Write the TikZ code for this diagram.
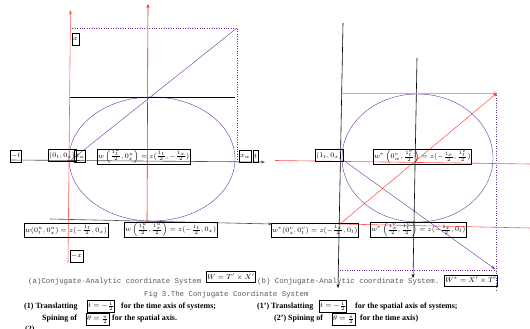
\documentclass[tikz,border=0pt]{standalone}
\usepackage{amsmath}
\usepackage{fontspec}
\setmainfont{Liberation Serif}
\newfontfamily\capfont{Liberation Mono}
\usetikzlibrary{arrows.meta}
\definecolor{wpurple}{HTML}{7030A0}
\definecolor{wred}{HTML}{FF2A2A}
\definecolor{wgray}{HTML}{505050}

\begin{document}
\begin{tikzpicture}[
    x=1pt, y=-1pt,
    axis/.style={-{Stealth[length=4pt, width=3pt]}},
    lbl/.style={draw, thin, anchor=west, inner sep=1pt, minimum height=12pt, font=\fontsize{7.2}{8}\selectfont},
    formula/.style={draw, thin, anchor=west, inner sep=0.8pt, minimum height=14pt, font=\fontsize{7.5}{8}\selectfont},
    caption/.style={anchor=west, inner sep=0pt, text=black!65, font=\capfont\fontsize{7.4}{8}\selectfont},
    note/.style={anchor=west, inner sep=0pt, font=\bfseries\fontsize{8}{9}\selectfont}
]
    \useasboundingbox (0,0) rectangle (530,329);
    % (a) left system - points
    \coordinate (aO) at (70,161);
    \coordinate (aC) at (237,28);
    \coordinate (aTop) at (70.5,10);
    \coordinate (aBot) at (68,263);
    \coordinate (aMidTop) at (148,4);
    \coordinate (aMidBot) at (147,222);
    \coordinate (aAxL) at (10,160);
    \coordinate (aAxR) at (265,162);
    \coordinate (aLowL) at (50,219);
    \coordinate (aLowR) at (272,224);
    % (a) shapes
    \draw[wpurple, thin] (152,159) ellipse [x radius=83, y radius=62];
    \draw[wpurple, thin, dotted] (70,28) -- (aC) -- (237,160);
    \draw[wpurple, thin] (aO) -- (aC);
    \draw[black, thin] (70,97) -- (235,97);
    \draw[axis, wred!75, semithick] (aBot) -- (aTop);
    \draw[axis, wred!85!black, semithick] (aMidBot) -- (aMidTop);
    \draw[axis, wgray, semithick] (aAxL) -- (aAxR);
    \draw[axis, wgray, semithick] (aLowL) -- (aLowR);
    % (b) right system - points
    \coordinate (bO) at (340,224);
    \coordinate (bC) at (497,93);
    \coordinate (bVTop) at (343,23);
    \coordinate (bVBot) at (338,288);
    \coordinate (bWTop) at (417,58);
    \coordinate (bWBot) at (413,278);
    \coordinate (bL) at (343,160);
    \coordinate (bE) at (495,269);
    % (b) shapes
    \draw[wpurple, thin] (417.5,158) ellipse [x radius=75.5, y radius=64];
    \draw[wpurple, thin, dotted] (496,93) -- (496,290);
    \draw[wpurple, thin, dotted] (340,270) -- (496,270);
    \draw[axis, wpurple, thin] (bL) -- (bE);
    \draw[axis, black, semithick] (bVTop) -- (bVBot);
    \draw[axis, black, semithick] (bWTop) -- (bWBot);
    \draw[axis, wred!50, thick] (342,93) -- (bC);
    \draw[axis, wred, thin] (bO) -- (bC);
    \draw[wred!80, semithick] (275,160.5) -- (530,164);
    \draw[wred!80, semithick] (bO) -- (530,228);
    % (a) labels
    \node[lbl] (lx) at (72,39) {$x$};
    \node[lbl] (lmt) at (10,156) {$-t$};
    \node[lbl] (lorgA) at (48,155.5) {$(0_t,0_x)$};
    \node[lbl] (lxu) at (74,156) {$x_u$};
    \node[formula] (fA) at (97,156.5) {$w\left(\frac{1^u_t}{2},0^u_x\right)=z(\frac{1_t}{2},-\frac{1_x}{2})$};
    \node[lbl] (lxw) at (239,156) {$x_w$};
    \node[lbl] (lt) at (253,156) {$t$};
    \node[formula] (fA1) at (24,230) {$w(0^u_t,0^u_x)=z(-\frac{1_t}{2},0_x)$};
    \node[formula] (fA2) at (124,230) {$w\left(\frac{1^u_t}{2},\frac{1^u_x}{2}\right)=z(-\frac{1_t}{2},0_x)$};
    \node[lbl] (lmx) at (70,256) {$-x$};
    % (b) labels
    \node[lbl] (lorgB) at (315,155.5) {$(1_t,0_x)$};
    \node[formula] (fB) at (373,157) {$w^*\left(0^v_w,\frac{1^v_t}{2}\right)=z(-\frac{1_x}{2},\frac{1^v_t}{2})$};
    \node[formula] (fB1) at (271,230) {$w^*(0^v_x,0^v_t)=z(-\frac{1_x}{2},0_t)$};
    \node[formula] (fB2) at (370,230) {$w^*\left(\frac{1^v_x}{2},\frac{1^v_t}{2}\right)=z(-\frac{1_x}{2},0_t)$};
    % captions
    \node[caption] (capA) at (28,282) {(a)Conjugate-Analytic coordinate System};
    \node[formula, minimum height=11pt] (prodA) at (206,277) {$W=T'\times X'$};
    \node[caption] (capB) at (257,282) {(b) Conjugate-Analytic coordinate System.};
    \node[formula, minimum height=11pt] (prodB) at (444,280.5) {$W^*=X'\times T'$};
    \node[caption] (fig) at (144,295) {Fig 3.The Conjugate Coordinate System};
    % notes
    \node[note] (n1) at (24,307) {(1) Translatting};
    \node[formula, minimum height=12pt] (t1) at (87,306) {$t=-\frac{1}{2}$};
    \node[note] (n1r) at (121,307) {for the time axis of systems;};
    \node[note] (m1) at (257,307) {(1') Translatting};
    \node[formula, minimum height=12pt] (t2) at (319,306) {$t=-\frac{1}{2}$};
    \node[note] (m1r) at (355,307) {for the spatial axis of systems;};
    \node[note] (n2) at (42,319) {Spining of};
    \node[formula, minimum height=12pt] (s1) at (86,319.5) {$\theta=\frac{\pi}{2}$};
    \node[note] (n2r) at (112,319) {for the spatial axis.};
    \node[note] (n2n) at (25,330) {(2)};
    \node[note] (m2) at (274,319) {(2') Spining of};
    \node[formula, minimum height=12pt] (s2) at (332,319.5) {$\theta=\frac{\pi}{2}$};
    \node[note] (m2r) at (360,319) {for the time axis)};
\end{tikzpicture}
\end{document}
